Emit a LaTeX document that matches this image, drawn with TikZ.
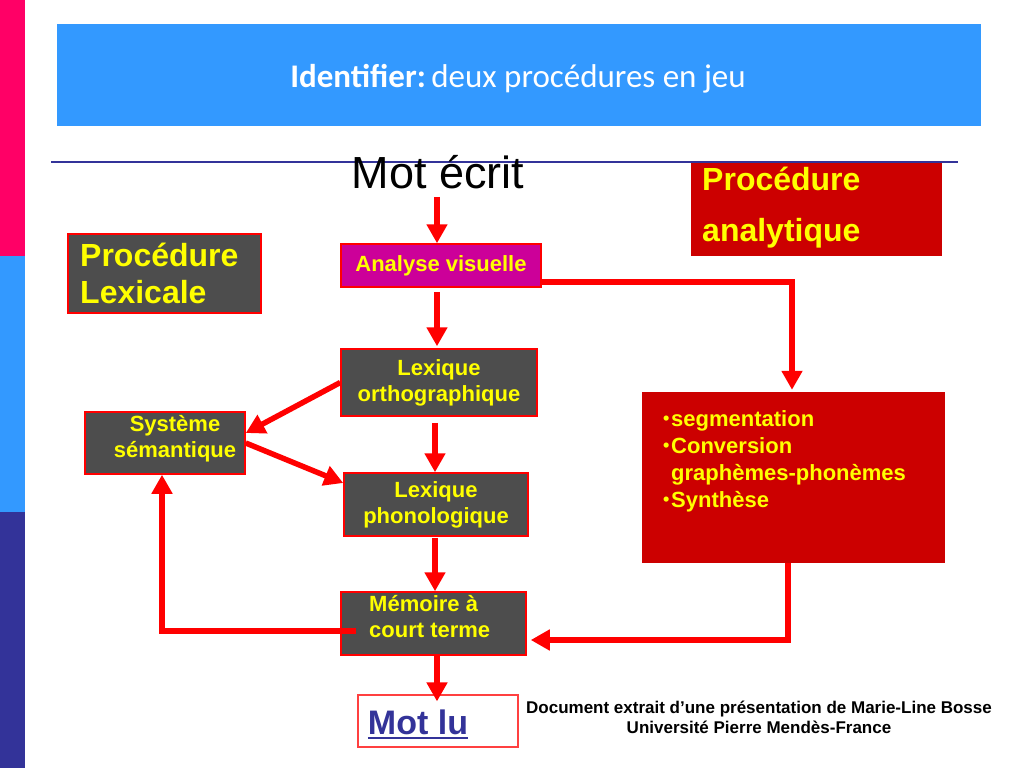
\documentclass[tikz,border=0pt]{standalone}
\usepackage{fontspec}
\setmainfont{Liberation Sans}
\newfontfamily\titlefont{Carlito}
\usetikzlibrary{arrows.meta,calc}
\definecolor{pinkbar}{HTML}{FF0066}
\definecolor{bluebar}{HTML}{3399FF}
\definecolor{navy}{HTML}{333399}
\definecolor{boxgray}{HTML}{4D4D4D}
\definecolor{magbox}{HTML}{CC0099}
\definecolor{anared}{HTML}{CC0000}
\definecolor{ytxt}{HTML}{FFFF00}
\newcommand\segbullet{\makebox[9pt][l]{\hspace*{1pt}\raisebox{1.5pt}{\fontsize{18}{18}\selectfont •}}}
\begin{document}
\begin{tikzpicture}[x=1pt,y=-1pt,
  box/.style={draw=red, line width=1.5pt, inner sep=0pt},
  graybox/.style={box, fill=boxgray},
  ylab/.style={text=ytxt, font=\fontsize{22}{26}\bfseries\selectfont, align=center, inner sep=0pt},
  biglab/.style={text=ytxt, font=\fontsize{32}{37}\bfseries\selectfont, align=left, inner sep=0pt},
  conn/.style={draw=red, line width=5.5pt},
  arr/.style={conn, -{Triangle[width=20pt,length=19pt]}},
]
\useasboundingbox (0,0) rectangle (1024,768);
\fill[white] (0,0) rectangle (1024,768);
% left bar
\fill[pinkbar] (0,0) rectangle (25,256);
\fill[bluebar] (0,256) rectangle (25,512);
\fill[navy] (0,512) rectangle (25,768);
% title
\node[fill=bluebar, minimum width=924pt, minimum height=102pt, inner sep=0pt] (titlebox) at (519,75) {};
\node[text=white, font=\titlefont\fontsize{33}{40}\selectfont, inner sep=0pt] (title) at (518,79) {\textbf{Identifier:}\,deux procédures en jeu};
% procedure analytique box
\node[fill=anared, minimum width=251pt, minimum height=94pt, inner sep=0pt] (pa) at (816.5,209) {};
\node[biglab, font=\fontsize{32}{51}\bfseries\selectfont, anchor=west] (pat) at (702,208) {Procédure\\analytique};
% rule
\draw[navy, line width=2pt] (51,162) -- (958,162);
% mot ecrit
\node[font=\fontsize{45}{54}\selectfont, inner sep=0pt] (me) at (438,172) {Mot écrit};
% boxes
\node[graybox, minimum width=193pt, minimum height=79pt] (pl) at (164.5,273.5) {};
\node[biglab, anchor=west] (plt) at (80,273) {Procédure\\Lexicale};
\node[box, fill=magbox, ylab, minimum width=200pt, minimum height=43pt] (av) at (441,265.5) {Analyse visuelle};
\node[graybox, ylab, minimum width=196pt, minimum height=67pt] (lo) at (439,382.5) {Lexique\\orthographique};
\node[graybox, ylab, minimum width=184pt, minimum height=63pt] (lp) at (436,504.5) {Lexique\\phonologique};
\node[graybox, minimum width=160pt, minimum height=62pt] (sys) at (165,443) {};
\node[ylab] (syst) at (175,439) {Système\\sémantique};
\node[graybox, minimum width=185pt, minimum height=63pt] (mem) at (433.5,623.5) {};
\node[ylab, align=left, anchor=west] (memt) at (369,617) {Mémoire à\\court terme};
\node[fill=anared, minimum width=303pt, minimum height=171pt, inner sep=0pt] (seg) at (793.5,477.5) {};
\node[ylab, align=left, anchor=north west, font=\fontsize{22}{27}\bfseries\selectfont] (segt) at (662,410)
  {\segbullet segmentation\\\segbullet Conversion\\\hspace*{9pt}graphèmes-phonèmes\\\segbullet Synthèse};
% mot lu
\node[draw=red!75, line width=1.2pt, fill=white, minimum width=160pt, minimum height=52pt, inner sep=0pt] (ml) at (438,721) {};
\node[text=navy, font=\fontsize{34}{40}\bfseries\selectfont, inner sep=0pt] (mlt) at (418,722) {Mot lu};
\draw[navy, line width=2.5pt] ($(mlt.base west)+(0,4)$) -- ($(mlt.base east)+(0,4)$);
% credit
\node[font=\fontsize{17}{20}\bfseries\selectfont, align=center, inner sep=0pt] (cred) at (759,717)
  {Document extrait d’une présentation de Marie-Line Bosse\\Université Pierre Mendès-France};
% connectors
\draw[arr] ($(me.south)+(-1,8)$) -- ($(av.north)+(-4,0)$);
\draw[arr] ($(av.south)+(-4,4)$) -- ($(lo.north)+(-2,-2)$);
\draw[arr] ($(lo.south)+(-4,6)$) -- ($(lp.north)+(-1,0)$);
\draw[arr] (lo.west) -- ($(sys.east)+(0,-10)$);
\draw[arr] (sys.east) -- ($(lp.west)+(0,-21.5)$);
\draw[arr] ($(lp.south)+(-1,1)$) -- ($(mem.north)+(1.5,0)$);
\draw[arr] ($(mem.south)+(3.5,0)$) -- ($(ml.north)+(-1,7)$);
\draw[arr] ($(av.east)+(0,16.5)$) -| ($(seg.north)+(-1.5,-2)$);
\draw[arr] ($(seg.south)+(-5.5,0)$) |- ($(mem.east)+(4,16.5)$);
\draw[arr] ($(mem.west)+(16,7.5)$) -| ($(sys.south)+(-3,0)$);
\end{tikzpicture}
\end{document}
